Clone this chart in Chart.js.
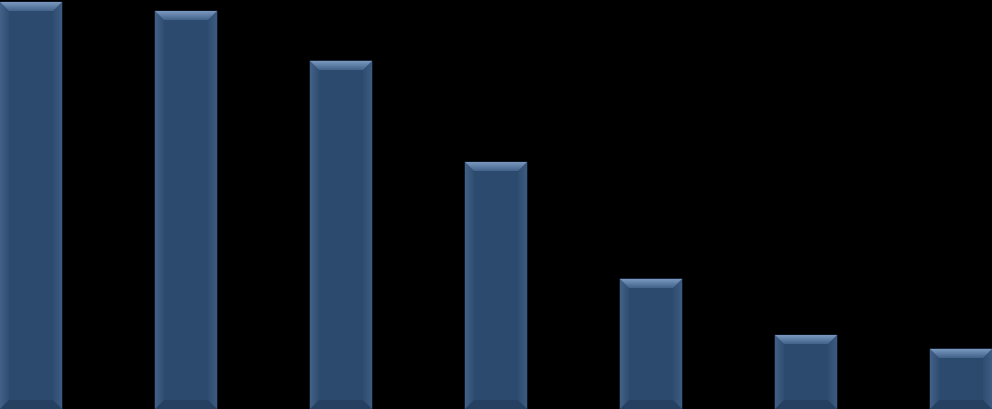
<!DOCTYPE html>
<html>
<head>
<meta charset="utf-8">
<script src="https://cdn.jsdelivr.net/npm/chart.js@4"></script>
<style>
  html, body { margin: 0; padding: 0; background: #000; }
  #wrap { width: 992px; height: 409px; }
</style>
</head>
<body>
<div id="wrap"><canvas id="chart"></canvas></div>
<script>
// values (axis hidden in the reference, scale 0-100)
var categories = ['1', '2', '3', '4', '5', '6', '7'];
var values = [99.5, 97.3, 85.1, 60.4, 31.8, 18.1, 14.7];
var yTicks = [0, 100];

// draws the bevel look on each bar, using the bar element geometry
var bevelPlugin = {
    id: 'bevel',
    afterDatasetsDraw: function (chart) {
        var ctx = chart.ctx;
        var meta = chart.getDatasetMeta(0);
        meta.data.forEach(function (bar) {
            var p = bar.getProps(['x', 'y', 'width', 'base'], true);
            var l = p.x - p.width / 2, r = p.x + p.width / 2;
            var t = p.y, b = p.base;
            var d = 9;
            ctx.save();
            // top facet
            var g = ctx.createLinearGradient(0, t, 0, t + d);
            g.addColorStop(0, '#7b99bf');
            g.addColorStop(1, '#42628a');
            ctx.fillStyle = g;
            ctx.beginPath();
            ctx.moveTo(l, t);
            ctx.lineTo(r, t);
            ctx.lineTo(r - d, t + d);
            ctx.lineTo(l + d, t + d);
            ctx.closePath();
            ctx.fill();
            // left facet
            var gl = ctx.createLinearGradient(l, 0, l + d, 0);
            gl.addColorStop(0, 'rgba(110,140,180,0.35)');
            gl.addColorStop(1, 'rgba(110,140,180,0.05)');
            ctx.fillStyle = gl;
            ctx.beginPath();
            ctx.moveTo(l, t);
            ctx.lineTo(l + d, t + d);
            ctx.lineTo(l + d, b - d);
            ctx.lineTo(l, b);
            ctx.closePath();
            ctx.fill();
            // right facet
            var gr = ctx.createLinearGradient(r, 0, r - d, 0);
            gr.addColorStop(0, 'rgba(100,130,170,0.3)');
            gr.addColorStop(1, 'rgba(100,130,170,0.05)');
            ctx.fillStyle = gr;
            ctx.beginPath();
            ctx.moveTo(r, t);
            ctx.lineTo(r - d, t + d);
            ctx.lineTo(r - d, b - d);
            ctx.lineTo(r, b);
            ctx.closePath();
            ctx.fill();
            // bottom facet
            ctx.fillStyle = 'rgba(20,40,65,0.25)';
            ctx.beginPath();
            ctx.moveTo(l, b);
            ctx.lineTo(l + d, b - d);
            ctx.lineTo(r - d, b - d);
            ctx.lineTo(r, b);
            ctx.closePath();
            ctx.fill();
            ctx.restore();
        });
    }
};

var ctx = document.getElementById('chart').getContext('2d');
var myChart = new Chart(ctx, {
    type: 'bar',
    data: {
        labels: categories,
        datasets: [{
            data: values,
            backgroundColor: '#2c496e',
            borderWidth: 0,
            barThickness: 62,
            clip: false
        }]
    },
    options: {
        responsive: true,
        maintainAspectRatio: false,
        animation: false,
        layout: { padding: { left: 31, right: 31, top: 0, bottom: 0 } },
        plugins: {
            legend: { display: false },
            tooltip: { enabled: false }
        },
        scales: {
            x: { display: false, offset: false },
            y: {
                display: false,
                min: yTicks[0],
                max: yTicks[yTicks.length - 1]
            }
        }
    },
    plugins: [bevelPlugin]
});
</script>
</body>
</html>
